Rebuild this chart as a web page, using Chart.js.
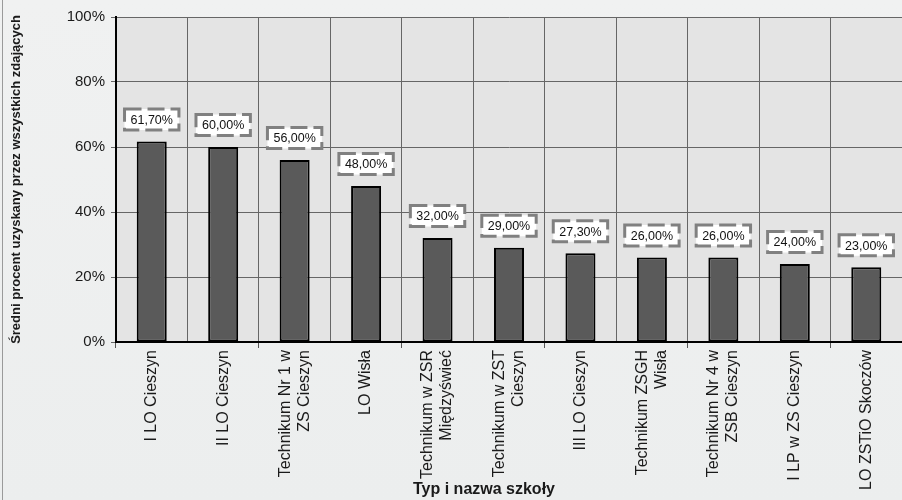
<!DOCTYPE html>
<html>
<head>
<meta charset="utf-8">
<script src="https://cdn.jsdelivr.net/npm/chart.js@4/dist/chart.umd.min.js"></script>
<style>
  body { margin: 0; background: #eef0f0; }
  canvas { display: block; }
</style>
</head>
<body>
<canvas id="wykres" width="902" height="500"></canvas>
<script>
// Dane z wykresu
var szkoly = [
    'I LO Cieszyn',
    'II LO Cieszyn',
    ['Technikum Nr 1 w', 'ZS Cieszyn'],
    'LO Wisła',
    ['Technikum w ZSR', 'Międzyświeć'],
    ['Technikum w ZST', 'Cieszyn'],
    'III LO Cieszyn',
    ['Technikum ZSGH', 'Wisła'],
    ['Technikum Nr 4 w', 'ZSB Cieszyn'],
    'I LP w ZS Cieszyn',
    'LO ZSTiO Skoczów'
];
var wyniki = [61.7, 60.0, 56.0, 48.0, 32.0, 29.0, 27.3, 26.0, 26.0, 24.0, 23.0];
var osY = [0, 20, 40, 60, 80, 100];
var tytulX = 'Typ i nazwa szkoły';
var tytulY = 'Średni procent uzyskany przez wszystkich zdających';

var czcionka = '"Liberation Sans", Arial, sans-serif';

// tło całego obrazka i obszaru wykresu
var tloPlugin = {
    id: 'tlo',
    beforeDraw: function(chart) {
        var ctx = chart.ctx;
        var a = chart.chartArea;
        ctx.save();
        var g = ctx.createLinearGradient(0, 0, 0, chart.height);
        g.addColorStop(0, '#f0f1f1');
        g.addColorStop(1, '#eceeee');
        ctx.fillStyle = g;
        ctx.fillRect(0, 0, chart.width, chart.height);
        ctx.strokeStyle = '#9a9a9a';
        ctx.lineWidth = 1;
        ctx.beginPath();
        ctx.moveTo(2.5, 0);
        ctx.lineTo(2.5, chart.height);
        ctx.stroke();
        ctx.fillStyle = '#e4e4e4';
        ctx.fillRect(a.left, a.top, a.right - a.left, a.bottom - a.top);
        ctx.restore();
    }
};

// etykiety osi X (obrócone, linie wyśrodkowane) + tytuł osi X
var etykietyX = {
    id: 'etykietyX',
    afterDraw: function(chart) {
        var ctx = chart.ctx;
        var x = chart.scales.x;
        var lh = 19;
        ctx.save();
        ctx.font = '16px ' + czcionka;
        ctx.fillStyle = '#1a1a1a';
        ctx.textAlign = 'right';
        ctx.textBaseline = 'middle';
        szkoly.forEach(function(s, i) {
            var linie = Array.isArray(s) ? s : [s];
            var px = x.getPixelForValue(i);
            linie.forEach(function(t, j) {
                var xx = px + (j - (linie.length - 1) / 2) * lh;
                ctx.save();
                ctx.translate(xx, x.top + 8);
                ctx.rotate(-Math.PI / 2);
                ctx.fillText(t, 0, 0);
                ctx.restore();
            });
        });
        ctx.font = 'bold 16px ' + czcionka;
        ctx.textAlign = 'center';
        ctx.fillText(tytulX, 484, 490);
        ctx.restore();
    }
};

// etykiety wartości nad słupkami
var wartosci = {
    id: 'wartosci',
    afterDatasetsDraw: function(chart) {
        var ctx = chart.ctx;
        var meta = chart.getDatasetMeta(0);
        ctx.save();
        ctx.font = '12.5px ' + czcionka;
        ctx.textAlign = 'center';
        ctx.textBaseline = 'middle';
        meta.data.forEach(function(bar, i) {
            var txt = wyniki[i].toFixed(2).replace('.', ',') + '%';
            var w = ctx.measureText(txt).width + 12;
            var h = 21;
            var cy = bar.y - 22;
            ctx.fillStyle = '#ffffff';
            ctx.fillRect(bar.x - w / 2, cy - h / 2, w, h);
            ctx.strokeStyle = '#808080';
            ctx.lineWidth = 3;
            ctx.setLineDash([17, 6]);
            ctx.strokeRect(bar.x - w / 2, cy - h / 2, w, h);
            ctx.setLineDash([]);
            ctx.fillStyle = '#111';
            ctx.fillText(txt, bar.x, cy + 1);
        });
        ctx.restore();
    }
};

var ctx = document.getElementById('wykres').getContext('2d');
var wykres = new Chart(ctx, {
    type: 'bar',
    data: {
        labels: szkoly,
        datasets: [{
            data: wyniki,
            backgroundColor: '#5a5a5a',
            borderColor: '#000000',
            borderWidth: 2,
            borderSkipped: false,
            barPercentage: 0.42,
            categoryPercentage: 1.0
        }]
    },
    options: {
        responsive: false,
        animation: false,
        devicePixelRatio: 1,
        layout: { padding: { top: 17, right: 0, left: 0, bottom: 0 } },
        plugins: {
            legend: { display: false },
            tooltip: { enabled: false }
        },
        scales: {
            x: {
                grid: {
                    offset: true,
                    color: '#666666',
                    lineWidth: 1,
                    tickLength: 6,
                    tickColor: function(c) { return c.index % 2 === 0 ? '#555555' : 'rgba(0,0,0,0)'; }
                },
                border: { color: '#000000', width: 2 },
                ticks: { display: false },
                afterFit: function(scale) { scale.height = 158; }
            },
            y: {
                min: 0,
                max: 100,
                afterBuildTicks: function(scale) {
                    scale.ticks = osY.map(function(v) { return { value: v }; });
                },
                grid: { color: '#666666', lineWidth: 1, tickLength: 5 },
                border: { color: '#000000', width: 2 },
                ticks: {
                    color: '#1a1a1a',
                    padding: 6,
                    font: { family: czcionka, size: 15 },
                    callback: function(v) { return v + '%'; }
                },
                title: {
                    display: true,
                    text: tytulY,
                    color: '#1a1a1a',
                    font: { family: czcionka, size: 13, weight: 'bold' },
                    padding: { top: 9, bottom: 0 }
                },
                afterFit: function(scale) { scale.width = 116; }
            }
        }
    },
    plugins: [tloPlugin, etykietyX, wartosci]
});
</script>
</body>
</html>
